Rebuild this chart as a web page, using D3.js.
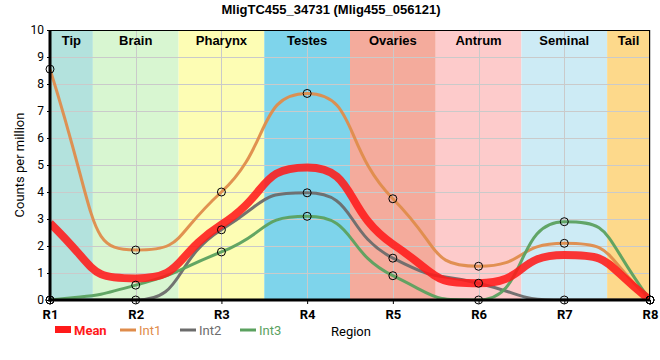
<!DOCTYPE html>
<html>
<head>
<meta charset="utf-8">
<script src="https://cdn.jsdelivr.net/npm/d3@7"></script>
<style>
  body { margin: 0; background: #fff; }
  svg { display: block; }
  .tick text { font-family: Roboto, "Liberation Sans", sans-serif; }
</style>
</head>
<body>
<div id="chart"></div>
<script>
// expression profile per region
const regions = ["R1", "R2", "R3", "R4", "R5", "R6", "R7", "R8"];
const int1 = [8.55, 1.85, 4.0, 7.65, 3.75, 1.25, 2.1, 0];
const int2 = [0, 0, 2.6, 3.97, 1.55, 0.62, 0, 0];
const int3 = [0, 0.55, 1.78, 3.1, 0.9, 0, 2.9, 0];
const mean = regions.map((r, i) => (int1[i] + int2[i] + int3[i]) / 3);

// tissue bands: name + start/end in region index units
const bandNames = ["Tip", "Brain", "Pharynx", "Testes", "Ovaries", "Antrum", "Seminal", "Tail"];
const bandStart = [0, 0.5, 1.5, 2.5, 3.5, 4.5, 5.5, 6.5];
const bandEnd = [0.5, 1.5, 2.5, 3.5, 4.5, 5.5, 6.5, 7];
const bandColors = ["#b3e2dd", "#d8f6d1", "#fdfdb4", "#7ed4eb", "#f4ab9c", "#fdcbcb", "#cdebf5", "#fdd98b"];

const yTicks = d3.range(0, 11);

const series = [
  { name: "Int1", values: int1, color: "#df8c4b", width: 3, dots: true },
  { name: "Int2", values: int2, color: "#6c6c6c", width: 3, dots: true },
  { name: "Int3", values: int3, color: "#5ba15f", width: 3, dots: true },
  { name: "Mean", values: mean, color: "#ff1a1a", width: 8, dots: false, opacity: 0.88 },
];

// monotone-x slopes, but bezier handles pushed out past a third of the segment:
// flatter around the points, steeper in between (closer to the reference look)
function curveWide(k) {
  return function(context) {
    let pts;
    return {
      areaStart() {}, areaEnd() {},
      lineStart() { pts = []; },
      point(px, py) { pts.push([+px, +py]); },
      lineEnd() {
        const n = pts.length;
        if (!n) return;
        context.moveTo(pts[0][0], pts[0][1]);
        if (n === 1) return;
        const sec = d3.range(n - 1).map(i =>
          (pts[i + 1][1] - pts[i][1]) / (pts[i + 1][0] - pts[i][0]));
        const t = new Array(n);
        for (let i = 1; i < n - 1; i++) {
          const h0 = pts[i][0] - pts[i - 1][0], h1 = pts[i + 1][0] - pts[i][0];
          const s0 = sec[i - 1], s1 = sec[i];
          const p = (s0 * h1 + s1 * h0) / (h0 + h1);
          t[i] = (Math.sign(s0) + Math.sign(s1)) *
            Math.min(Math.abs(s0), Math.abs(s1), 0.5 * Math.abs(p)) || 0;
        }
        if (n === 2) { t[0] = t[1] = sec[0]; }
        else {
          t[0] = (3 * sec[0] - t[1]) / 2;
          t[n - 1] = (3 * sec[n - 2] - t[n - 2]) / 2;
        }
        for (let i = 0; i < n - 1; i++) {
          const [x0, y0] = pts[i], [x1, y1] = pts[i + 1];
          const dx = (x1 - x0) * k;
          // keep handles inside the segment's y range so nothing overshoots
          const lo = Math.min(y0, y1), hi = Math.max(y0, y1);
          const c1 = Math.max(lo, Math.min(hi, y0 + dx * t[i]));
          const c2 = Math.max(lo, Math.min(hi, y1 - dx * t[i + 1]));
          context.bezierCurveTo(x0 + dx, c1, x1 - dx, c2, x1, y1);
        }
      }
    };
  };
}

const W = 660, H = 360;
const m = { top: 30, right: 10, bottom: 60, left: 50 };

const svg = d3.select("#chart").append("svg")
  .attr("width", W).attr("height", H);

const x = d3.scaleLinear().domain([0, regions.length - 1]).range([m.left, W - m.right]);
const y = d3.scaleLinear().domain([0, 10]).range([H - m.bottom, m.top]);

// title
svg.append("text")
  .attr("x", 331).attr("y", 14)
  .attr("text-anchor", "middle")
  .style("font", "bold 13px 'Liberation Sans', Arial, sans-serif")
  .text("MligTC455_34731 (Mlig455_056121)");

// ── bands ──
svg.append("g").selectAll("rect")
  .data(bandNames)
  .join("rect")
  .attr("x", (d, i) => x(bandStart[i]))
  .attr("width", (d, i) => x(bandEnd[i]) - x(bandStart[i]))
  .attr("y", y(10))
  .attr("height", y(0) - y(10))
  .attr("fill", (d, i) => bandColors[i]);

// ── grid ──
const grid = svg.append("g").attr("stroke", "#cacaca").attr("stroke-width", 1);
grid.selectAll("line.h").data(yTicks).join("line")
  .attr("class", "h")
  .attr("x1", x(0)).attr("x2", x(7))
  .attr("y1", d => y(d) + 0.5).attr("y2", d => y(d) + 0.5);
grid.selectAll("line.v").data(regions).join("line")
  .attr("class", "v")
  .attr("x1", (d, i) => Math.round(x(i)) + 0.5).attr("x2", (d, i) => Math.round(x(i)) + 0.5)
  .attr("y1", y(10)).attr("y2", y(0));

// band labels
svg.append("g").selectAll("text")
  .data(bandNames)
  .join("text")
  .attr("x", (d, i) => x((bandStart[i] + bandEnd[i]) / 2))
  .attr("y", 45)
  .attr("text-anchor", "middle")
  .style("font", "bold 13px 'Liberation Sans', Arial, sans-serif")
  .text(d => d);

// ── lines ──
svg.append("clipPath").attr("id", "plotclip")
  .append("rect")
  .attr("x", x(0)).attr("y", y(10))
  .attr("width", x(7) - x(0)).attr("height", y(0) - y(10));

const line = d3.line()
  .x((d, i) => x(i))
  .y(d => y(d))
  .curve(curveWide(0.58));

const plot = svg.append("g").attr("clip-path", "url(#plotclip)");
plot.selectAll("path")
  .data(series)
  .join("path")
  .attr("d", s => line(s.values))
  .attr("fill", "none")
  .attr("stroke", s => s.color)
  .attr("stroke-width", s => s.width)
  .attr("stroke-opacity", s => s.opacity || 0.95);

// ── axes ──
const yAxis = svg.append("g")
  .attr("transform", `translate(${x(0)},0)`)
  .call(d3.axisLeft(y).tickValues(yTicks).tickSize(3).tickFormat(d3.format("d")));
yAxis.select(".domain").remove();
yAxis.selectAll("text").style("font-size", "12px").attr("fill", "#000");

const xAxis = svg.append("g")
  .attr("transform", `translate(0,${y(0)})`)
  .call(d3.axisBottom(x).tickValues(d3.range(regions.length)).tickSize(4)
    .tickFormat(i => regions[i]));
xAxis.select(".domain").remove();
xAxis.selectAll("text")
  .attr("dy", "0.95em")
  .style("font-size", "13px")
  .style("font-weight", "bold")
  .attr("fill", "#000");

// frame
svg.append("rect")
  .attr("x", x(0) + 0.5).attr("y", y(10) + 0.5)
  .attr("width", x(7) - x(0) - 1).attr("height", y(0) - y(10) - 1)
  .attr("fill", "none").attr("stroke", "#000").attr("stroke-width", 1);
svg.append("line")
  .attr("x1", x(0)).attr("x2", x(0))
  .attr("y1", y(10)).attr("y2", y(0) + 1.5)
  .attr("stroke", "#000").attr("stroke-width", 3);
svg.append("line")
  .attr("x1", x(0) - 1.5).attr("x2", x(7))
  .attr("y1", y(0)).attr("y2", y(0))
  .attr("stroke", "#000").attr("stroke-width", 3);

// dots, drawn on top of the frame
series.filter(s => s.dots).forEach(s => {
  svg.append("g").selectAll("circle")
    .data(s.values)
    .join("circle")
    .attr("cx", (d, i) => x(i))
    .attr("cy", d => y(d))
    .attr("r", 4)
    .attr("fill", "none")
    .attr("stroke", "#000")
    .attr("stroke-width", 1);
});

// axis titles
svg.append("text")
  .attr("transform", `translate(24,${(y(0) + y(10)) / 2}) rotate(-90)`)
  .attr("text-anchor", "middle")
  .style("font", "13px Roboto, 'Liberation Sans', sans-serif")
  .text("Counts per million");

svg.append("text")
  .attr("x", 331).attr("y", 336)
  .style("font", "13px Roboto, 'Liberation Sans', sans-serif")
  .text("Region");

// ── legend ──
const legendOrder = ["Mean", "Int1", "Int2", "Int3"];
const legendX = [55, 120, 180, 240];
const legend = svg.append("g");
legendOrder.forEach((name, k) => {
  const s = series.find(d => d.name === name);
  const gx = legendX[k];
  if (name === "Mean") {
    legend.append("rect")
      .attr("x", gx).attr("y", 326).attr("width", 16).attr("height", 7)
      .attr("fill", s.color);
  } else {
    legend.append("line")
      .attr("x1", gx).attr("x2", gx + 16)
      .attr("y1", 330).attr("y2", 330)
      .attr("stroke", s.color).attr("stroke-width", 3);
  }
  legend.append("text")
    .attr("x", gx + 19).attr("y", 335)
    .attr("fill", s.color)
    .style("font", `${name === "Mean" ? "bold " : ""}13px Roboto, 'Liberation Sans', sans-serif`)
    .text(name);
});
</script>
</body>
</html>
